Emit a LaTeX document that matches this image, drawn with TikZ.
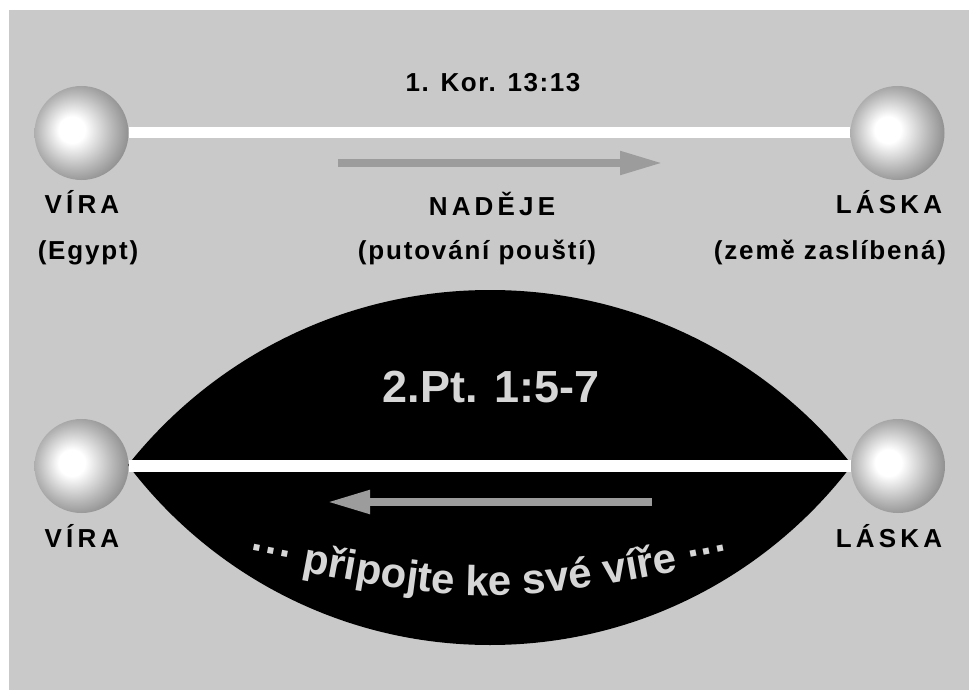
\documentclass[tikz,border=0pt]{standalone}
\usepackage{fontspec}
\setmainfont{Liberation Sans}
\newfontfamily\capsfont{Liberation Sans}[LetterSpace=16]
\newfontfamily\parfont{Liberation Sans}[LetterSpace=7]
\newfontfamily\reffont{Liberation Sans}[LetterSpace=6]
\usetikzlibrary{arrows.meta,decorations.text}
\definecolor{bg}{HTML}{C9C9C9}
\definecolor{arrowgray}{HTML}{9C9C9C}
\definecolor{lighttxt}{HTML}{D6D6D6}
\pgfdeclareradialshading{sphereshade}{\pgfpoint{-6bp}{2bp}}{color(0bp)=(white); color(7bp)=(white); color(20bp)=(black!28); color(32bp)=(black!52); color(42bp)=(black!68); color(50bp)=(black!80)}
\tikzset{
  sphere/.style={circle, minimum size=94pt, inner sep=0pt, shading=sphereshade},
  whiteline/.style={draw=white, line width=11pt},
  grayarrow/.style={draw=arrowgray, line width=8pt, -{Triangle[length=43pt, width=22pt]}},
  capslbl/.style={font=\capsfont\bfseries\fontsize{26}{30}\selectfont, inner sep=0pt, anchor=base},
  parlbl/.style={font=\parfont\bfseries\fontsize{26}{30}\selectfont, inner sep=0pt, anchor=base},
  reflbl/.style={font=\reffont\bfseries\fontsize{26}{30}\selectfont, inner sep=0pt, anchor=base},
  bigref/.style={font=\bfseries\fontsize{45}{50}\selectfont, text=lighttxt, inner sep=0pt, anchor=base}
}
\begin{document}
\begin{tikzpicture}[x=1pt, y=-1pt]
\useasboundingbox (0,0) rectangle (969,690);
\fill[white] (0,0) rectangle (969,690);
\fill[bg] (9,10) rectangle (969,690);

% lens
\begin{scope}
  \clip (490,752) circle[radius=462pt];
  \fill[black] (490,191) circle[radius=454pt];
\end{scope}

% spheres
\node[sphere] (tl) at (81.5,133) {};
\node[sphere] (tr) at (897.5,133) {};
\node[sphere] (bl) at (81.5,466) {};
\node[sphere] (br) at (898,466) {};

% white lines
\draw[whiteline] (tl.east) -- (tr.west);
\draw[whiteline, line width=12pt] (bl.east) -- (br.west);

% arrows
\coordinate (a1s) at (338,163);
\coordinate (a1e) at (663,163);
\draw[grayarrow] (a1s) -- (a1e);
\coordinate (a2s) at (652,502);
\coordinate (a2e) at (327,502);
\draw[grayarrow] (a2s) -- (a2e);

% top labels
\node[reflbl] (kor) at (493,92) {1. Kor. 13:13};
\node[capslbl] (vira1) at (82,213) {VÍRA};
\node[parlbl] (egypt) at (88,259) {(Egypt)};
\node[capslbl] (nadeje) at (492,215) {NADĚJE};
\node[parlbl] (put) at (477,259) {(putování pouští)};
\node[capslbl] (laska1) at (889,213) {LÁSKA};
\node[parlbl] (zeme) at (830,259) {(země zaslíbená)};

% bottom labels
\node[bigref] (pt) at (491,402) {2.Pt. 1:5-7};
\node[capslbl] (vira2) at (82,547) {VÍRA};
\node[capslbl] (laska2) at (889,547) {LÁSKA};

% curved text
\coordinate (ts) at (220,555);
\coordinate (tc) at (490,609);
\coordinate (te) at (760,555);
\path[decorate, decoration={text along path, text align=center,
  text color=lighttxt,
  text={|\bfseries\fontsize{42}{46}\selectfont|··· připojte ke své víře ···}}]
  (ts) .. controls (tc) .. (te);
\end{tikzpicture}
\end{document}
